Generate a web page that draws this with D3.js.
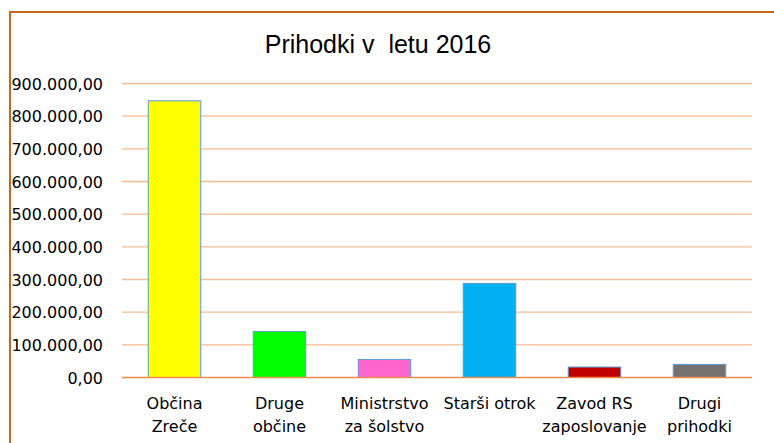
<!DOCTYPE html>
<html><head><meta charset="utf-8">
<script src="https://cdn.jsdelivr.net/npm/d3@7"></script>
<style>html,body{margin:0;padding:0;background:#fff;}</style>
</head><body>
<svg id="chart" width="774" height="443"></svg>
<script>
const categories = [["Občina","Zreče"],["Druge","občine"],["Ministrstvo","za šolstvo"],["Starši otrok"],["Zavod RS","zaposlovanje"],["Drugi","prihodki"]];
const values = [847000, 141000, 55000, 288000, 32000, 40000];
const colors = ["#FFFF00","#00FF00","#FF66CC","#00B0F0","#C00000","#767171"];
const yTicks = [0,100000,200000,300000,400000,500000,600000,700000,800000,900000];
const title = "Prihodki v  letu 2016";

const svg = d3.select("#chart");
const fmt = v => d3.format(",.2f")(v).replace(/,/g,"X").replace(/\./g,",").replace(/X/g,".");

// outer border
svg.append("rect").attr("x",10).attr("y",12).attr("width",800).attr("height",500)
  .attr("fill","none").attr("stroke","#C8651E").attr("stroke-width",2);

const y = d3.scaleLinear().domain([0,900000]).range([377.5,83.5]);
const x = d3.scaleBand().domain(d3.range(categories.length)).range([122,752]).paddingInner(0.5).paddingOuter(0.25);

// gridlines
svg.append("g").selectAll("line").data(yTicks.filter(d=>d>0)).join("line")
  .attr("x1",122).attr("x2",752).attr("y1",d=>y(d)).attr("y2",d=>y(d))
  .attr("stroke","#F5BC94").attr("stroke-width",1.3);

// y axis labels
const yAxis = d3.axisLeft(y).tickValues(yTicks).tickSize(0).tickPadding(0).tickFormat(fmt);
const ga = svg.append("g").attr("transform","translate(103,0)").call(yAxis);
ga.select(".domain").remove();
ga.selectAll("text").attr("font-family","DejaVu Sans").attr("font-size",16).attr("fill","#000").attr("dy","0.35em");

// bars
svg.append("g").selectAll("rect").data(values).join("rect")
  .attr("x",(d,i)=>x(i)).attr("width",x.bandwidth())
  .attr("y",d=>y(d)).attr("height",d=>y(0)-y(d))
  .attr("fill",(d,i)=>colors[i]).attr("stroke","#5B9BD5").attr("stroke-width",1);

// zero line
svg.append("line").attr("x1",122).attr("x2",752).attr("y1",y(0)).attr("y2",y(0))
  .attr("stroke","#ED8A4C").attr("stroke-width",1.6);

// x labels
const xl = svg.append("g").selectAll("text").data(categories).join("text")
  .attr("x",(d,i)=>x(i)+x.bandwidth()/2).attr("y",409)
  .attr("text-anchor","middle").attr("font-family","DejaVu Sans").attr("font-size",16).attr("fill","#000");
xl.selectAll("tspan").data(d=>d).join("tspan")
  .attr("x",function(){return this.parentNode.getAttribute("x");})
  .attr("dy",(d,i)=>i===0?0:22.5).text(d=>d);

// title
svg.append("text").attr("x",378).attr("y",53).attr("text-anchor","middle")
  .attr("font-family","Liberation Sans").attr("font-size",25).attr("fill","#000")
  .attr("xml:space","preserve").style("white-space","pre").text(title);
</script>
</body></html>
